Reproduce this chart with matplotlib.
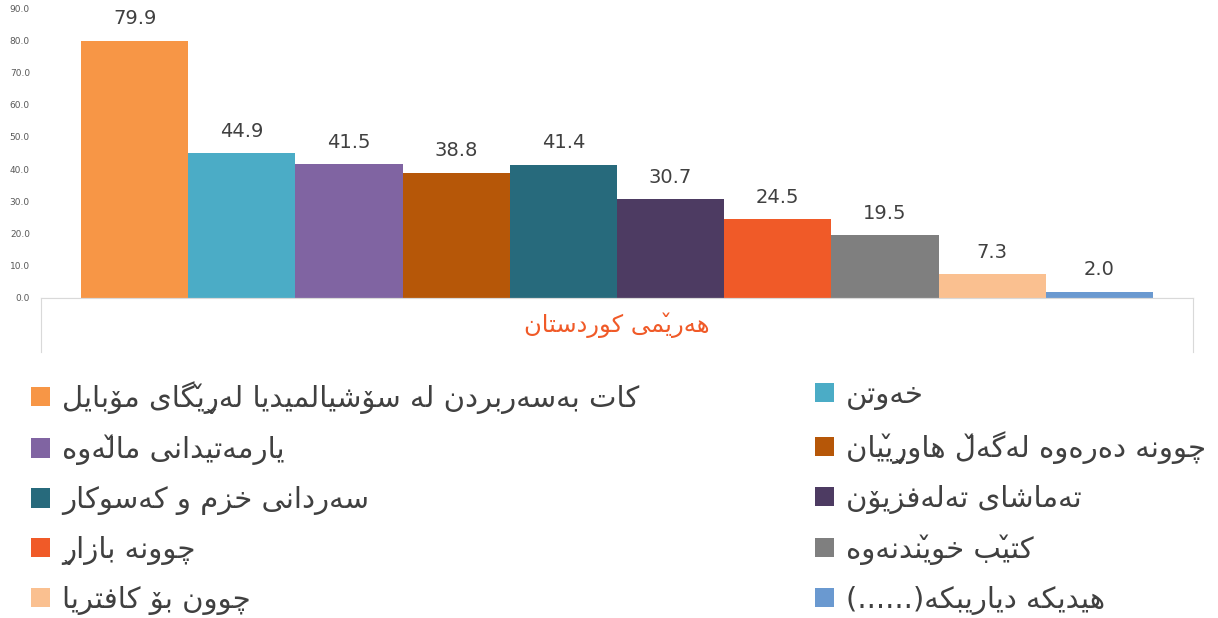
import unicodedata
import matplotlib
matplotlib.use('Agg')
import matplotlib.pyplot as plt
from matplotlib import font_manager
from matplotlib.ft2font import FT2Font
from matplotlib.patches import Patch

# data
categories = [
    'کات بەسەربردن لە سۆشیالمیدیا لەڕێگای مۆبایل',
    'خەوتن',
    'یارمەتیدانی ماڵەوە',
    'چوونە دەرەوە لەگەڵ هاوڕێیان',
    'سەردانی خزم و کەسوکار',
    'تەماشای تەلەفزیۆن',
    'چوونە بازاڕ',
    'کتێب خوێندنەوە',
    'چوون بۆ کافتریا',
    'هیدیکە دیاریبکە(......)',
]
values = [79.9, 44.9, 41.5, 38.8, 41.4, 30.7, 24.5, 19.5, 7.3, 2.0]
colors = ['#F79646', '#4BACC6', '#8064A2', '#B65708', '#276A7C',
          '#4D3B62', '#F05A28', '#7F7F7F', '#FAC090', '#6A99D0']
region = 'هەرێمی کوردستان'
yticks = [0, 10, 20, 30, 40, 50, 60, 70, 80, 90]

# matplotlib does no arabic shaping / RTL, so do it by hand
font = FT2Font(font_manager.findfont('DejaVu Sans'))

def has(ch):
    return ch != '' and font.get_char_index(ord(ch)) != 0

# latin combining carons have zero advance, they sit over the glyph before them
V_ABOVE = '\u030C' if has('\u030C') else ''
V_BELOW = '\u032C' if has('\u032C') else ''

# isolated, final, initial, medial
FORMS = {
    0x0626: (0xFE89, 0xFE8A, 0xFE8B, 0xFE8C),
    0x0627: (0xFE8D, 0xFE8E),
    0x0628: (0xFE8F, 0xFE90, 0xFE91, 0xFE92),
    0x062A: (0xFE95, 0xFE96, 0xFE97, 0xFE98),
    0x062C: (0xFE9D, 0xFE9E, 0xFE9F, 0xFEA0),
    0x062D: (0xFEA1, 0xFEA2, 0xFEA3, 0xFEA4),
    0x062E: (0xFEA5, 0xFEA6, 0xFEA7, 0xFEA8),
    0x062F: (0xFEA9, 0xFEAA),
    0x0631: (0xFEAD, 0xFEAE),
    0x0632: (0xFEAF, 0xFEB0),
    0x0633: (0xFEB1, 0xFEB2, 0xFEB3, 0xFEB4),
    0x0634: (0xFEB5, 0xFEB6, 0xFEB7, 0xFEB8),
    0x0639: (0xFEC9, 0xFECA, 0xFECB, 0xFECC),
    0x0641: (0xFED1, 0xFED2, 0xFED3, 0xFED4),
    0x0642: (0xFED5, 0xFED6, 0xFED7, 0xFED8),
    0x0644: (0xFEDD, 0xFEDE, 0xFEDF, 0xFEE0),
    0x0645: (0xFEE1, 0xFEE2, 0xFEE3, 0xFEE4),
    0x0646: (0xFEE5, 0xFEE6, 0xFEE7, 0xFEE8),
    0x0647: (0xFEE9, 0xFEEA, 0xFEEB, 0xFEEC),
    0x0648: (0xFEED, 0xFEEE),
    0x067E: (0xFB56, 0xFB57, 0xFB58, 0xFB59),
    0x0686: (0xFB7A, 0xFB7B, 0xFB7C, 0xFB7D),
    0x0698: (0xFB8A, 0xFB8B),
    0x06A4: (0xFB6A, 0xFB6B, 0xFB6C, 0xFB6D),
    0x06A9: (0xFB8E, 0xFB8F, 0xFB90, 0xFB91),
    0x06AF: (0xFB92, 0xFB93, 0xFB94, 0xFB95),
    0x06CC: (0xFBFC, 0xFBFD, 0xFBFE, 0xFBFF),
    0x06C6: (0xFBD9, 0xFBDA),
    0x06D5: (0xFEE9, 0xFEEA),
}
DECOMP = {'ێ': 'ی' + V_ABOVE, 'ڵ': 'ل' + V_ABOVE, 'ڕ': 'ر' + V_BELOW}
if not has('\uFBD9'):
    DECOMP['ۆ'] = 'و' + V_ABOVE


def shape(text):
    chars = []
    for ch in text:
        chars += list(DECOMP.get(ch, ch))
    letters = [i for i, c in enumerate(chars) if unicodedata.category(c) != 'Mn']
    out = []
    for k, i in enumerate(letters):
        c = chars[i]
        nxt_i = letters[k + 1] if k + 1 < len(letters) else len(chars)
        marks = ''.join(chars[i + 1:nxt_i])
        glyph = c
        forms = FORMS.get(ord(c))
        if forms:
            prev = chars[letters[k - 1]] if k > 0 else None
            nxt = chars[nxt_i] if nxt_i < len(chars) else None
            jp = prev is not None and len(FORMS.get(ord(prev), ())) == 4
            jn = len(forms) == 4 and nxt is not None and ord(nxt) in FORMS
            cp = forms[[[0, 2], [1, 3]][jp][jn]]
            if has(chr(cp)):
                glyph = chr(cp)
        out.append(glyph + marks)
    out.reverse()
    return ''.join(out).translate(str.maketrans('()', ')('))


W, H = 1218, 618
plt.rcParams['font.family'] = ['DejaVu Sans']
fig = plt.figure(figsize=(W / 100, H / 100), dpi=100)

ax = fig.add_axes([41 / W, 1 - 298 / H, 1152 / W, 290 / H])
x = list(range(len(values)))
bars = ax.bar(x, values, width=1, color=colors)
ax.bar_label(bars, fmt='%.1f', padding=9, fontsize=14, color='#404040')
ax.set_xlim(-0.873, len(values) - 1 + 0.873)
ax.set_ylim(0, 90)
ax.set_yticks(yticks)
ax.set_yticklabels(['%.1f' % t for t in yticks])
ax.tick_params(axis='y', length=0, pad=8, labelsize=6.5, labelcolor='#595959')
ax.set_xticks([])
for s in ['left', 'top', 'right']:
    ax.spines[s].set_visible(False)
ax.spines['bottom'].set_color('#d9d9d9')

# category box under the bars
cax = fig.add_axes([41 / W, 1 - 352 / H, 1152 / W, 54 / H])
cax.set_xticks([])
cax.set_yticks([])
cax.spines['bottom'].set_visible(False)
for s in ['left', 'top', 'right']:
    cax.spines[s].set_color('#d9d9d9')
cax.text(0.5, 0.5, shape(region), ha='center', va='center', fontsize=17.5,
         color='#F05A28', transform=cax.transAxes)

# legend, two columns filled row by row
handles = [Patch(facecolor=c, edgecolor='none') for c in colors]
labels = [shape(c) for c in categories]
for col, x0 in [(0, 31), (1, 815)]:
    fig.legend(handles[col::2], labels[col::2], loc='upper left',
               bbox_to_anchor=(x0 / W, 1 - 381 / H), frameon=False,
               fontsize=21, labelcolor='#404040', borderpad=0, borderaxespad=0,
               handlelength=0.65, handleheight=0.65, handletextpad=0.41,
               labelspacing=0.715)

fig.savefig('out.png', dpi=100)
